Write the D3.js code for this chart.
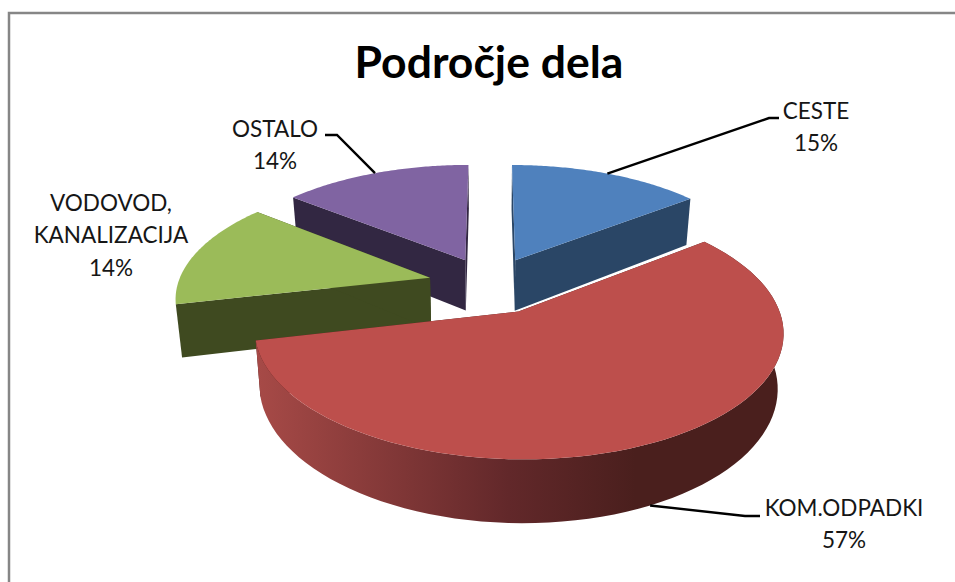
<!DOCTYPE html>
<html>
<head>
<meta charset="utf-8">
<script src="https://cdn.jsdelivr.net/npm/d3@7"></script>
<style>
    html, body { margin: 0; padding: 0; background: #fff; overflow: hidden; }
    text { font-family: Lato, "Open Sans", sans-serif; fill: #161616; }
</style>
</head>
<body>
<div id="chart"></div>
<script>
let chartTitle = "Področje dela";
let categories = ["CESTE", "KOM.ODPADKI", "VODOVOD,\nKANALIZACIJA", "OSTALO"];
let values = [14.5, 56.9, 14.4, 14.2];
let topColors = ["#4f81bd", "#bd4f4c", "#9bbb59", "#8064a2"];
let sideColors = ["#2a4666", "#4a1f1d", "#3f4a20", "#322742"];
let explodes = [60, 65, 63, 60];

let width = 955, height = 582;

// pie geometry, fitted by eye to the 3d view
let cx = 490, cy = 284;
let radius = 256, depth = 52;
let tilt = 0.454, camera = 1700, xScale = 0.985;

let svg = d3.select("#chart")
            .append("svg")
                .attr("width", width)
                .attr("height", height);

svg.append("rect")
    .attr("x", 9)
    .attr("y", 13)
    .attr("width", width + 20)
    .attr("height", height + 20)
    .attr("fill", "#fff")
    .attr("stroke", "#868686")
    .attr("stroke-width", 2.5);

svg.append("text")
    .attr("x", 489)
    .attr("y", 78)
    .attr("text-anchor", "middle")
    .style("font-size", "44.5px")
    .style("font-weight", "700")
    .style("fill", "#000")
    .text(chartTitle);

let slices = d3.pie().sort(null)(values);

function project(slice, angle, r, z) {
    let mid = (slice.startAngle + slice.endAngle) / 2;
    let off = explodes[slice.index];
    let X = off * Math.sin(mid) + r * Math.sin(angle);
    let Y = off * Math.cos(mid) + r * Math.cos(angle);
    let p = camera / (camera + Y);
    let shrink = 1 - 0.02 * z / depth;
    return [cx + X * xScale * p * shrink, cy - Y * tilt * p + z * p];
}

function arcPoints(slice, z) {
    let n = 80;
    return d3.range(n + 1).map(i => {
        let a = slice.startAngle + (slice.endAngle - slice.startAngle) * i / n;
        return project(slice, a, radius, z);
    });
}

let line = d3.line();

let defs = svg.append("defs");
let wallGrad = defs.append("linearGradient")
    .attr("id", "wallGrad")
    .attr("gradientUnits", "userSpaceOnUse")
    .attr("x1", 256).attr("x2", 783)
    .attr("y1", 0).attr("y2", 0);
wallGrad.append("stop").attr("offset", "0").attr("stop-color", "#a74a47");
wallGrad.append("stop").attr("offset", "0.48").attr("stop-color", "#62282a");
wallGrad.append("stop").attr("offset", "0.72").attr("stop-color", "#4a1f1d");
wallGrad.append("stop").attr("offset", "1").attr("stop-color", "#4a1f1d");

// back to front so the nearer slices cover the others
let order = [3, 0, 2, 1];
order.forEach(i => {
    let s = slices[i];
    let g = svg.append("g");

    // straight cut faces
    [s.startAngle, s.endAngle].forEach(a => {
        g.append("path")
            .attr("d", line([
                project(s, a, 0, 0),
                project(s, a, radius, 0),
                project(s, a, radius, depth),
                project(s, a, 0, depth)
            ]) + "Z")
            .attr("fill", sideColors[i]);
    });

    // only the big slice shows its rounded wall
    if (i == 1) {
        let topEdge = arcPoints(s, 0);
        let bottomEdge = arcPoints(s, depth).reverse();
        g.append("path")
            .attr("d", line(topEdge.concat(bottomEdge)) + "Z")
            .attr("fill", "url(#wallGrad)");
    }

    g.append("path")
        .attr("d", line([project(s, 0, 0, 0)].concat(arcPoints(s, 0))) + "Z")
        .attr("fill", topColors[i]);
});

// labels: center x, first baseline, leader elbow
let labelLayout = [
    {x: 816, y: 119, elbow: [[769, 118], [779, 118]], z: 0},
    {x: 844, y: 516, elbow: [[745, 516], [760, 516]], z: depth},
    {x: 111, y: 211, elbow: null, z: 0},
    {x: 275, y: 137, elbow: [[337, 135], [325, 135]], z: 0}
];

slices.forEach((s, i) => {
    let layout = labelLayout[i];
    let lines = categories[i].split("\n").concat([Math.round(values[i]) + "%"]);

    let label = svg.append("text")
        .attr("text-anchor", "middle")
        .style("font-size", "22.5px");
    lines.forEach((t, j) => {
        label.append("tspan")
            .attr("x", layout.x)
            .attr("y", layout.y + j * 32.3)
            .text(t);
    });

    if (layout.elbow) {
        let mid = (s.startAngle + s.endAngle) / 2;
        let start = project(s, mid, radius, layout.z);
        svg.append("path")
            .attr("d", line([start].concat(layout.elbow)))
            .attr("fill", "none")
            .attr("stroke", "#000")
            .attr("stroke-width", 2.4);
    }
});
</script>
</body>
</html>
